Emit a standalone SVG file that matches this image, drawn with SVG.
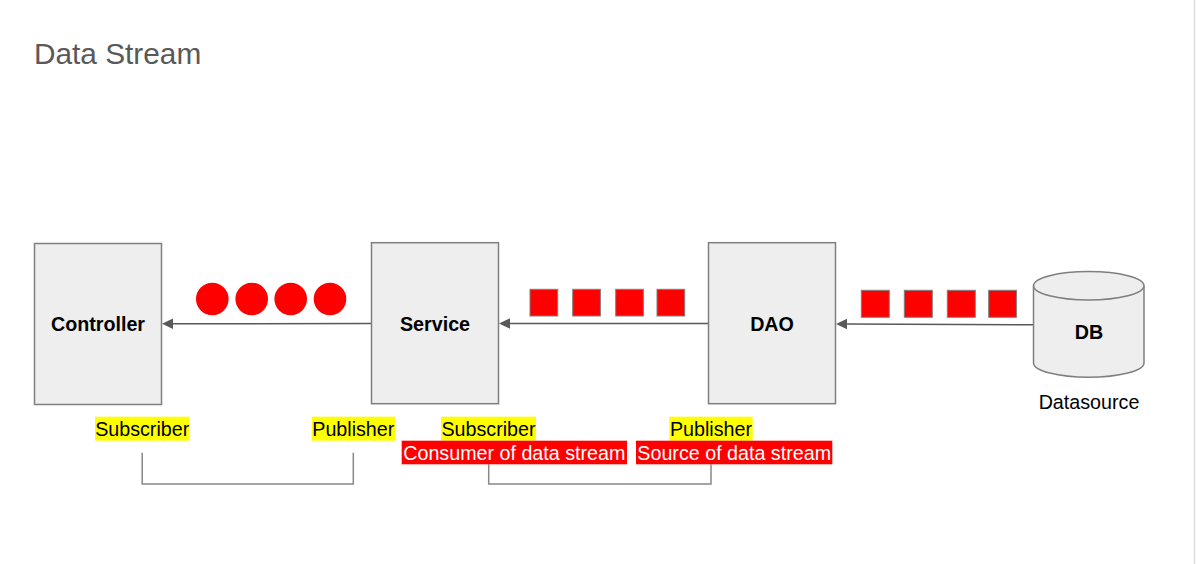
<svg xmlns="http://www.w3.org/2000/svg" width="1196" height="564" viewBox="0 0 1196 564">
<style>
text{font-family:"Liberation Sans",Arial,sans-serif}
.box{fill:#eeeeee;stroke:#7f7f7f;stroke-width:1.5}
.nl{font-size:19.7px;font-weight:bold;fill:#000;text-anchor:middle}
.lb{font-size:19.7px;fill:#000;text-anchor:middle}
.lw{font-size:19.7px;fill:#fff;text-anchor:middle}
.hy{fill:#ffff00}
.hr{fill:#ff0000}
.dot{fill:#ff0000}
.sq{fill:#ff0000;stroke:#7f7f7f;stroke-width:1}
.con{stroke:#595959;stroke-width:1.5;fill:none}
.br{stroke:#888888;stroke-width:1.5;fill:none}
</style>
<rect x="0" y="0" width="1196" height="564" fill="#ffffff"/>
<line x1="1194.5" y1="0" x2="1194.5" y2="564" stroke="#e0e0e0" stroke-width="1.5"/>
<text x="34" y="64" style="font-size:29.8px;fill:#595959">Data Stream</text>

<g id="connectors">
<line class="con" x1="371.5" y1="323.5" x2="173" y2="323.8"/>
<path d="M173,318.5 L162,323.8 L173,329 z" fill="#595959"/>
<line class="con" x1="708.5" y1="323.5" x2="510" y2="323.5"/>
<path d="M510,318.2 L499,323.5 L510,328.8 z" fill="#595959"/>
<line class="con" x1="1033.5" y1="324.7" x2="847" y2="324"/>
<path d="M847,318.7 L836,324 L847,329.3 z" fill="#595959"/>
<path class="br" d="M142.2,452.7 V484 H353.3 V452.7"/>
<path class="br" d="M488.7,464.3 V484 H711 V464.3"/>
</g>

<g id="controller">
<rect class="box" x="34.5" y="243.5" width="127" height="161"/>
<text class="nl" x="98" y="330.5">Controller</text>
</g>
<g id="service">
<rect class="box" x="371.5" y="242.7" width="127" height="161"/>
<text class="nl" x="435" y="330.5">Service</text>
</g>
<g id="dao">
<rect class="box" x="708.5" y="242.7" width="127" height="161"/>
<text class="nl" x="772" y="330.5">DAO</text>
</g>
<g id="db">
<path class="box" d="M1033.5,285.8 A55.25,14.2 0 0 1 1144,285.8 V363 A55.25,14.2 0 0 1 1033.5,363 Z"/>
<path class="box" style="fill:none" d="M1033.5,285.8 A55.25,14.2 0 0 0 1144,285.8"/>
<text class="nl" x="1089" y="339">DB</text>
<text class="lb" x="1089" y="409">Datasource</text>
</g>

<g id="stream-circles">
<circle class="dot" cx="212.3" cy="299" r="16.3"/>
<circle class="dot" cx="251.7" cy="299" r="16.3"/>
<circle class="dot" cx="290.7" cy="299" r="16.3"/>
<circle class="dot" cx="330" cy="299" r="16.3"/>
</g>
<g id="stream-squares-1">
<rect class="sq" x="530" y="289.3" width="27.7" height="26.7"/>
<rect class="sq" x="572.7" y="289.3" width="27.7" height="26.7"/>
<rect class="sq" x="615.7" y="289.3" width="27.7" height="26.7"/>
<rect class="sq" x="657" y="289.3" width="27.7" height="26.7"/>
</g>
<g id="stream-squares-2">
<rect class="sq" x="861.3" y="290.3" width="28" height="27"/>
<rect class="sq" x="904.3" y="290.3" width="28" height="27"/>
<rect class="sq" x="947.3" y="290.3" width="28" height="27"/>
<rect class="sq" x="988.7" y="290.3" width="27.7" height="27"/>
</g>

<g id="label-controller-subscriber">
<rect class="hy" x="95" y="416.7" width="94.5" height="24"/>
<text class="lb" x="142.2" y="436">Subscriber</text>
</g>
<g id="label-service-publisher">
<rect class="hy" x="311.7" y="416.7" width="83.3" height="24"/>
<text class="lb" x="353.3" y="436">Publisher</text>
</g>
<g id="label-service-subscriber">
<rect class="hy" x="441" y="416.7" width="95" height="24"/>
<text class="lb" x="488.5" y="436">Subscriber</text>
</g>
<g id="label-dao-publisher">
<rect class="hy" x="669.3" y="416.7" width="83.4" height="24"/>
<text class="lb" x="711" y="436">Publisher</text>
</g>
<g id="label-consumer">
<rect class="hr" x="401.7" y="440.7" width="225.3" height="23.6"/>
<text class="lw" x="514.3" y="460">Consumer of data stream</text>
</g>
<g id="label-source">
<rect class="hr" x="636" y="440.7" width="196.3" height="23.6"/>
<text class="lw" x="734.2" y="460">Source of data stream</text>
</g>
</svg>
